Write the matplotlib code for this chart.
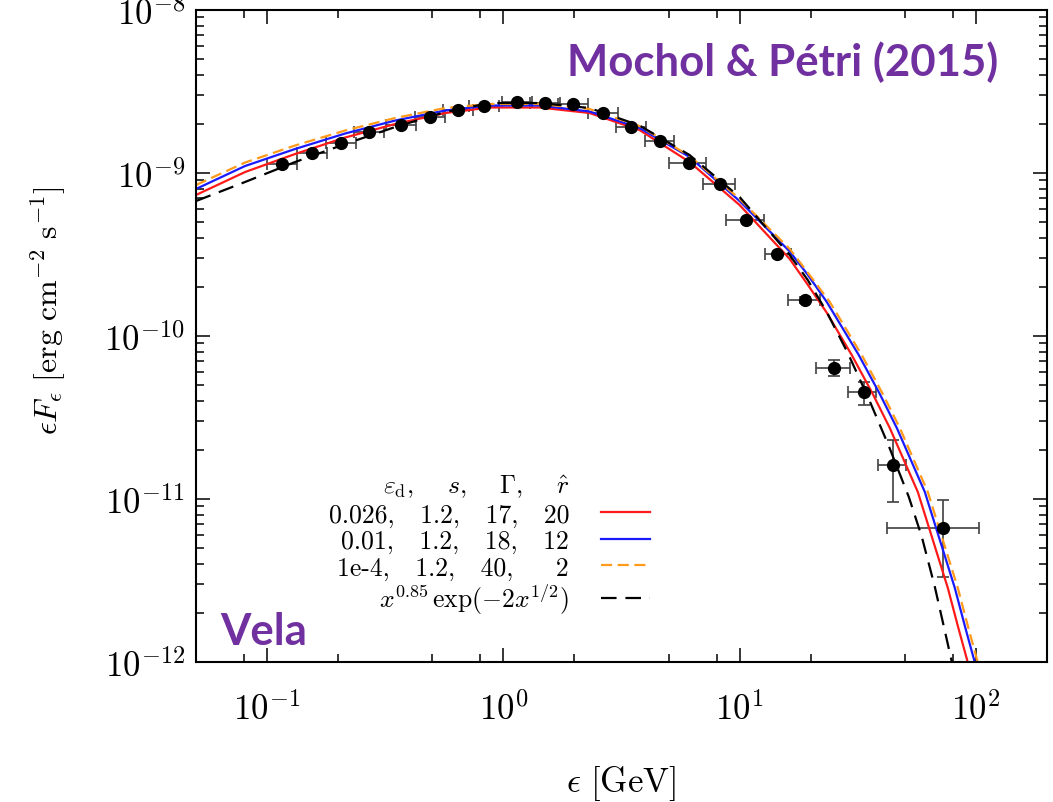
import matplotlib
matplotlib.use("Agg")
import matplotlib.pyplot as plt
import numpy as np
from matplotlib.ticker import LogLocator, FuncFormatter, NullFormatter

# Vela gamma-ray spectrum (Fermi points) + pulsar-striped-wind model fits
E = [0.116, 0.1556, 0.2053, 0.2706, 0.3685, 0.4873, 0.640, 0.831, 1.139, 1.507,
     1.98, 2.635, 3.476, 4.58, 6.08, 8.23, 10.68, 14.45, 18.98, 25.1, 33.5, 44.6, 72.3]
E_lo = [0.100, 0.134, 0.177, 0.234, 0.318, 0.421, 0.553, 0.718, 0.984, 1.302,
        1.71, 2.28, 3.00, 3.96, 5.00, 6.97, 8.78, 12.76, 15.97, 20.99, 28.69, 38.43, 41.98]
E_hi = [0.134, 0.180, 0.238, 0.313, 0.427, 0.564, 0.741, 0.962, 1.319, 1.745,
        2.29, 3.05, 4.02, 5.30, 7.22, 9.52, 12.64, 16.56, 21.83, 29.45, 37.95, 50.5, 102.9]
flux = [1.135e-9, 1.327e-9, 1.521e-9, 1.792e-9, 1.978e-9, 2.196e-9, 2.445e-9, 2.566e-9,
        2.715e-9, 2.688e-9, 2.65e-9, 2.324e-9, 1.907e-9, 1.578e-9, 1.157e-9, 8.56e-10,
        5.17e-10, 3.19e-10, 1.667e-10, 6.36e-11, 4.51e-11, 1.623e-11, 6.6e-12]
flux_dn = [0]*18 + [0.08e-10, 0.65e-11, 0.74e-11, 0.67e-11, 3.29e-12]
flux_up = [0]*18 + [0.08e-10, 0.76e-11, 0.73e-11, 0.68e-11, 3.3e-12]

# model curves (eps_d, s, Gamma, r_hat)
red_x = [0.05, 0.0807, 0.1314, 0.214, 0.3485, 0.5678, 0.8724, 1.421, 2.314, 3.77, 6.14,
         10.0, 16.29, 19.42, 23.37, 29.83, 36.61, 43.21, 56.79, 65.75, 76.11, 83.9, 91.59, 99.04]
red_y = [7.33e-10, 1.014e-9, 1.308e-9, 1.651e-9, 1.998e-9, 2.334e-9, 2.523e-9, 2.523e-9,
         2.334e-9, 1.835e-9, 1.168e-9, 6.36e-10, 2.97e-10, 2.064e-10, 1.391e-10, 7.64e-11,
         4.41e-11, 2.727e-11, 1.104e-11, 5.60e-12, 2.84e-12, 1.66e-12, 1.043e-12, 6.64e-13]

blue_x = [0.05, 0.0807, 0.1314, 0.214, 0.3485, 0.5678, 0.8724, 1.421, 2.314, 3.77, 6.14,
          10.0, 16.29, 19.42, 23.37, 31.94, 39.20, 46.28, 60.80, 70.39, 81.47, 89.84, 98.06, 106.0]
blue_y = [7.98e-10, 1.104e-9, 1.404e-9, 1.747e-9, 2.099e-9, 2.418e-9, 2.595e-9, 2.595e-9,
          2.384e-9, 1.888e-9, 1.254e-9, 6.73e-10, 3.30e-10, 2.377e-10, 1.619e-10, 7.64e-11,
          4.41e-11, 2.727e-11, 1.104e-11, 5.60e-12, 2.84e-12, 1.66e-12, 1.043e-12, 6.64e-13]

orange_x = [0.05, 0.0807, 0.1314, 0.214, 0.3485, 0.5678, 0.8724, 1.421, 2.314, 3.77, 6.14,
            10.0, 16.29, 19.42, 24.07, 32.88, 40.36, 47.64, 62.6, 72.48, 83.9, 92.5, 100.97, 109.2]
orange_y = [8.44e-10, 1.160e-9, 1.475e-9, 1.823e-9, 2.175e-9, 2.505e-9, 2.651e-9, 2.651e-9,
            2.470e-9, 1.942e-9, 1.271e-9, 6.93e-10, 3.42e-10, 2.452e-10, 1.619e-10, 7.64e-11,
            4.41e-11, 2.727e-11, 1.104e-11, 5.60e-12, 2.84e-12, 1.66e-12, 1.043e-12, 6.64e-13]

# empirical x^0.85 exp(-2 x^1/2) shape
black_x = [0.05, 0.0807, 0.1314, 0.214, 0.3485, 0.5678, 0.8724, 1.421, 2.314, 3.77, 6.14,
           10.0, 16.29, 19.42, 23.37, 28.69, 35.21, 42.79, 52.02, 59.06, 67.05, 79.13, 84.72]
black_y = [6.73e-10, 8.81e-10, 1.168e-9, 1.506e-9, 1.915e-9, 2.367e-9, 2.688e-9, 2.688e-9,
           2.505e-9, 1.956e-9, 1.289e-9, 7.12e-10, 3.14e-10, 2.207e-10, 1.404e-10, 7.87e-11,
           4.11e-11, 2.114e-11, 1.029e-11, 5.85e-12, 2.885e-12, 1e-12, 6.36e-13]

legend_header = r'$\varepsilon_{\rm d},\quad\; s,\quad\; \Gamma,\quad\; \hat{r}$'
labels = ['0.026,   1.2,   17,   20', '0.01,   1.2,   18,   12', '1e-4,   1.2,   40,     2',
          r'$x^{0.85}\,\exp(-2x^{1/2})$']

plt.rcParams['mathtext.fontset'] = 'cm'
plt.rcParams['font.family'] = 'serif'
plt.rcParams['font.serif'] = ['cmr10', 'DejaVu Serif']
plt.rcParams['axes.unicode_minus'] = False

fig = plt.figure(figsize=(10.53, 8.03), dpi=100)
ax = fig.add_axes([196/1053, 1-663/803, 851/1053, 652/803])

xerr = [np.array(E) - np.array(E_lo), np.array(E_hi) - np.array(E)]
ax.errorbar(E, flux, xerr=xerr, yerr=[flux_dn, flux_up], fmt='o', color='black',
            ecolor='0.25', elinewidth=1.2, capsize=4.5, capthick=1.2, markersize=8.5)

ax.plot([], [], color='none', label=legend_header)
ax.plot(red_x, red_y, color='#ff1a1a', lw=1.6, label=labels[0])
ax.plot(blue_x, blue_y, color='#1a1aff', lw=1.6, label=labels[1])
ax.plot(orange_x, orange_y, color='#ff9a1a', lw=1.6, dashes=(5, 2.5), label=labels[2])
ax.plot(black_x, black_y, color='black', lw=1.6, dashes=(7, 4), label=labels[3])

ax.set_xscale('log')
ax.set_yscale('log')
ax.set_xlim(0.05, 200)
ax.set_ylim(1e-12, 1e-8)

fmt = FuncFormatter(lambda v, p: r'$10^{%d}$' % int(round(np.log10(v))))
ax.xaxis.set_major_formatter(fmt)
ax.yaxis.set_major_formatter(fmt)
ax.xaxis.set_minor_locator(LogLocator(base=10, subs=[2, 5, 8]))
ax.yaxis.set_minor_locator(LogLocator(base=10, subs=np.arange(2, 10)))
ax.xaxis.set_minor_formatter(NullFormatter())
ax.yaxis.set_minor_formatter(NullFormatter())
ax.tick_params(which='both', direction='in', top=True, right=True, labelsize=25)
ax.tick_params(which='major', length=10, width=1.1)
ax.tick_params(which='minor', length=5.5, width=1.1)
ax.tick_params(axis='x', which='major', pad=21)
ax.tick_params(axis='y', which='major', pad=8)
for s in ax.spines.values():
    s.set_linewidth(1.5)

ax.set_xlabel(r'$\epsilon\ [\mathrm{GeV}]$', fontsize=25)
ax.xaxis.set_label_coords(0.5, -0.155)
ax.set_ylabel(r'$\epsilon F_\epsilon\ [\mathrm{erg\ cm^{-2}\ s^{-1}}]$', fontsize=23)
ax.yaxis.set_label_coords(-0.15, 0.541)

leg = ax.legend(loc='lower right', bbox_to_anchor=(0.5335, 0.07), frameon=False,
                markerfirst=False, fontsize=18.5, handlelength=1.9, handletextpad=1.25,
                labelspacing=0.1, borderpad=0, borderaxespad=0)

purple = '#7030A0'
fig.text(783/1053, 1-62/803, 'Mochol & Pétri (2015)', color=purple, fontsize=31.5,
         fontweight='bold', family='Lato', ha='center', va='center')
fig.text(220/1053, 1-632/803, 'Vela', color=purple, fontsize=31.5,
         fontweight='bold', family='Lato', ha='left', va='center')

fig.savefig('out.png', dpi=100)
